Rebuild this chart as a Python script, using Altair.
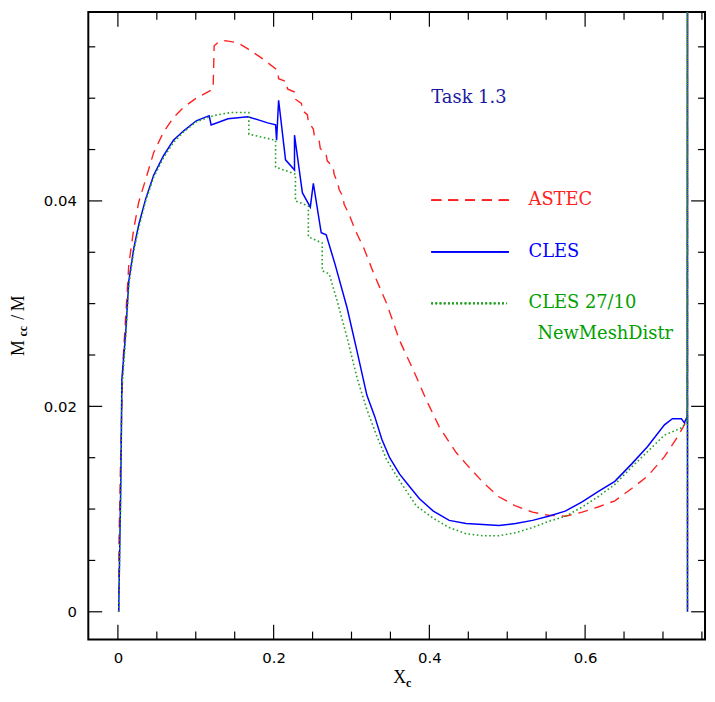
import altair as alt
import pandas as pd

# ---------------- data ----------------
astec_x = [0.001, 0.0013, 0.0038, 0.0064, 0.0102, 0.0140, 0.0204, 0.0268, 0.0357, 0.0459,
           0.0586, 0.0713, 0.0841, 0.1006, 0.1223, 0.1236, 0.1300, 0.1376, 0.1541, 0.1669,
           0.1885, 0.2051, 0.2064, 0.2166, 0.2178, 0.2268, 0.2280, 0.2357, 0.2369, 0.2433,
           0.2446, 0.2510, 0.2522, 0.2586, 0.2599, 0.2675, 0.2688, 0.2764, 0.2777, 0.2828,
           0.2841, 0.2892, 0.2904, 0.2968, 0.3045, 0.3159, 0.3287, 0.3452, 0.3618, 0.3796,
           0.3962, 0.4127, 0.4344, 0.4471, 0.4688, 0.4892, 0.5108, 0.5325, 0.5529, 0.5745,
           0.5962, 0.6166, 0.6382, 0.6599, 0.6803, 0.7019, 0.7185, 0.7312, 0.7315, 0.7315]
astec_y = [0.0, 0.0065, 0.0161, 0.0242, 0.0290, 0.0338, 0.0373, 0.0399, 0.0421, 0.0447,
           0.0467, 0.0481, 0.0491, 0.0500, 0.0509, 0.0551, 0.0555, 0.0556, 0.0554, 0.0548,
           0.0537, 0.0527, 0.0519, 0.0516, 0.0509, 0.0506, 0.0499, 0.0495, 0.0488, 0.0484,
           0.0477, 0.0470, 0.0464, 0.0458, 0.0451, 0.0445, 0.0439, 0.0433, 0.0426, 0.0416,
           0.0411, 0.0404, 0.0397, 0.0387, 0.0372, 0.0354, 0.0329, 0.0300, 0.0264, 0.0235,
           0.0206, 0.0180, 0.0155, 0.0144, 0.0126, 0.0112, 0.0103, 0.0097, 0.0094, 0.0093,
           0.0097, 0.0102, 0.0108, 0.0120, 0.0132, 0.0151, 0.0170, 0.0187, 0.0700, 0.0]

cles_x = [0.001, 0.0038, 0.0051, 0.0102, 0.0140, 0.0204, 0.0268, 0.0357, 0.0459, 0.0586,
          0.0713, 0.0841, 0.1006, 0.1172, 0.1197, 0.1414, 0.1669, 0.1924, 0.2025, 0.2038,
          0.2064, 0.2153, 0.2268, 0.2268, 0.2369, 0.2471, 0.2510, 0.2611, 0.2675, 0.2790,
          0.2943, 0.3070, 0.3197, 0.3299, 0.3389, 0.3490, 0.3618, 0.3745, 0.3873, 0.4051,
          0.4255, 0.4471, 0.4688, 0.4892, 0.5108, 0.5325, 0.5529, 0.5745, 0.5962, 0.6166,
          0.6382, 0.6599, 0.6803, 0.7019, 0.7121, 0.7236, 0.7274, 0.7312, 0.7315, 0.7315]
cles_y = [0.0, 0.0129, 0.0226, 0.0274, 0.0322, 0.0354, 0.0377, 0.0402, 0.0425, 0.0444,
          0.0459, 0.0468, 0.0478, 0.0483, 0.0474, 0.0480, 0.0482, 0.0476, 0.0474, 0.0459,
          0.0498, 0.0440, 0.0430, 0.0464, 0.0408, 0.0394, 0.0417, 0.0369, 0.0367, 0.0338,
          0.0296, 0.0254, 0.0211, 0.0190, 0.0168, 0.0150, 0.0134, 0.0122, 0.0110, 0.0098,
          0.0089, 0.0086, 0.0085, 0.0084, 0.0086, 0.0089, 0.0093, 0.0098, 0.0107, 0.0117,
          0.0127, 0.0144, 0.0161, 0.0182, 0.0188, 0.0188, 0.0184, 0.0190, 0.0700, 0.0]

cles2_x = [0.001, 0.0038, 0.0051, 0.0102, 0.0140, 0.0204, 0.0268, 0.0357, 0.0459, 0.0586,
           0.0713, 0.0841, 0.1006, 0.1185, 0.1287, 0.1452, 0.1682, 0.1682, 0.2025, 0.2025,
           0.2280, 0.2280, 0.2446, 0.2446, 0.2624, 0.2624, 0.2713, 0.2815, 0.2943, 0.3070,
           0.3197, 0.3325, 0.3452, 0.3580, 0.3745, 0.3834, 0.4051, 0.4255, 0.4471, 0.4688,
           0.4892, 0.5108, 0.5325, 0.5529, 0.5745, 0.5962, 0.6166, 0.6382, 0.6599, 0.6803,
           0.7019, 0.7236, 0.7312, 0.7315, 0.7315]
cles2_y = [0.0, 0.0120, 0.0216, 0.0269, 0.0318, 0.0351, 0.0374, 0.0400, 0.0423, 0.0442,
           0.0457, 0.0467, 0.0477, 0.0482, 0.0484, 0.0486, 0.0486, 0.0465, 0.0459, 0.0433,
           0.0426, 0.0400, 0.0395, 0.0365, 0.0359, 0.0332, 0.0329, 0.0303, 0.0267, 0.0228,
           0.0197, 0.0171, 0.0148, 0.0132, 0.0113, 0.0103, 0.0091, 0.0082, 0.0076, 0.0074,
           0.0074, 0.0077, 0.0082, 0.0088, 0.0093, 0.0102, 0.0112, 0.0124, 0.0141, 0.0156,
           0.0172, 0.0179, 0.0185, 0.0700, 0.0]

x_major = [0.0, 0.2, 0.4, 0.6]
x_minor = [0.05, 0.1, 0.15, 0.25, 0.3, 0.35, 0.45, 0.5, 0.55, 0.65, 0.7, 0.75]
y_major = [0.0, 0.02, 0.04]
y_minor = [0.005, 0.01, 0.015, 0.025, 0.03, 0.035, 0.045, 0.05, 0.055]

series_labels = ["ASTEC", "CLES", "CLES 27/10", "NewMeshDistr"]
panel_label = "Task 1.3"

# ---------------- styling ----------------
W, H = 622, 633
RED, BLUE, GREEN = "#ff2020", "#0000ff", "#22a022"
TXT_GREEN = "#00a000"
TASK_BLUE = "#1a1aa0"

xscale = alt.Scale(domain=[-0.038, 0.754], nice=False, zero=False)
yscale = alt.Scale(domain=[-0.0027, 0.0584], nice=False, zero=False)
xaxis = alt.Axis(values=x_major, format=".2~f", ticks=False, domain=False, grid=False, title=None,
                 labelFont="DejaVu Sans", labelFontSize=15, labelPadding=11,
                 labelColor="black")
yaxis = alt.Axis(values=y_major, format=".2~f", ticks=False, domain=False, grid=False, title=None,
                 labelFont="DejaVu Sans", labelFontSize=15, labelPadding=12,
                 labelColor="black")
X = alt.X("x:Q", scale=xscale, axis=xaxis)
Y = alt.Y("y:Q", scale=yscale, axis=yaxis)


def frame(xs, ys):
    return pd.DataFrame({"x": xs, "y": ys, "i": list(range(len(xs)))})


df_a = frame(astec_x, astec_y)
df_c = frame(cles_x, cles_y)
df_g = frame(cles2_x, cles2_y)

line_a = alt.Chart(df_a).mark_line(color=RED, strokeWidth=1.4, strokeDash=[10, 7], clip=True).encode(
    x=X, y=Y, order="i:Q")
line_c = alt.Chart(df_c).mark_line(color=BLUE, strokeWidth=1.5, clip=True).encode(
    x=X, y=Y, order="i:Q")
line_g = alt.Chart(df_g).mark_line(color=GREEN, strokeWidth=1.6, strokeDash=[1.6, 2.6], clip=True).encode(
    x=X, y=Y, order="i:Q")

# inward ticks on all four sides
dx_major = pd.DataFrame({"x": x_major})
dx_minor = pd.DataFrame({"x": x_minor})
dy_major = pd.DataFrame({"y": y_major})
dy_minor = pd.DataFrame({"y": y_minor})
tk = dict(color="black", strokeWidth=1.2)
ticks = [
    alt.Chart(dx_major).mark_rule(**tk).encode(x=X, y=alt.value(H), y2=alt.value(H - 15)),
    alt.Chart(dx_minor).mark_rule(**tk).encode(x=X, y=alt.value(H), y2=alt.value(H - 8)),
    alt.Chart(dx_major).mark_rule(**tk).encode(x=X, y=alt.value(0), y2=alt.value(15)),
    alt.Chart(dx_minor).mark_rule(**tk).encode(x=X, y=alt.value(0), y2=alt.value(8)),
    alt.Chart(dy_major).mark_rule(**tk).encode(y=Y, x=alt.value(0), x2=alt.value(14)),
    alt.Chart(dy_minor).mark_rule(**tk).encode(y=Y, x=alt.value(0), x2=alt.value(7)),
    alt.Chart(dy_major).mark_rule(**tk).encode(y=Y, x=alt.value(W), x2=alt.value(W - 14)),
    alt.Chart(dy_minor).mark_rule(**tk).encode(y=Y, x=alt.value(W), x2=alt.value(W - 7)),
]

# legend inside the plot
leg = []
leg.append(alt.Chart(dx_major).mark_rule(color=RED, strokeWidth=1.4, strokeDash=[10, 7]).encode(
    x=alt.value(346), x2=alt.value(424), y=alt.value(190)))
leg.append(alt.Chart(dx_major).mark_rule(color=BLUE, strokeWidth=1.5).encode(
    x=alt.value(346), x2=alt.value(424), y=alt.value(242)))
leg.append(alt.Chart(dx_major).mark_rule(color=GREEN, strokeWidth=1.6, strokeDash=[1.6, 2.6]).encode(
    x=alt.value(346), x2=alt.value(422), y=alt.value(294)))

txt = dict(font="DejaVu Serif", fontSize=18, align="left", baseline="middle")


def label(text, color, px, py, **kw):
    opts = dict(txt)
    opts.update(kw)
    return alt.Chart(pd.DataFrame({"t": [text]})).mark_text(color=color, **opts).encode(
        text="t:N", x=alt.value(px), y=alt.value(py))


leg.append(label(panel_label, TASK_BLUE, 346, 87))
leg.append(label(series_labels[0], RED, 444, 190))
leg.append(label(series_labels[1], BLUE, 444, 242))
leg.append(label(series_labels[2], TXT_GREEN, 444, 294))
leg.append(label(series_labels[3], TXT_GREEN, 453, 325))

# axis titles with subscripts
tf = dict(font="Liberation Serif", align="center")
titles = [
    label("X", "black", 314, 672, fontSize=18, **tf),
    label("c", "black", 323, 677, fontSize=12, fontWeight="bold", **tf),
    label("M", "black", -70, 339, fontSize=18, angle=270, **tf),
    label("cc", "black", -66, 322, fontSize=12, fontWeight="bold", angle=270, **tf),
    label("/", "black", -70, 308, fontSize=18, angle=270, **tf),
    label("M", "black", -70, 294, fontSize=18, angle=270, **tf),
]

chart = alt.layer(line_a, line_c, line_g, *ticks, *leg, *titles).properties(
    width=W, height=H,
    padding={"left": 81, "top": 1, "right": 2, "bottom": 52},
    autosize=alt.AutoSizeParams(type="none"),
).configure(
    background="white",
    view=alt.ViewConfig(stroke="black", strokeWidth=2),
)

chart.save("out.html", embed_options={"renderer": "svg", "actions": False})
